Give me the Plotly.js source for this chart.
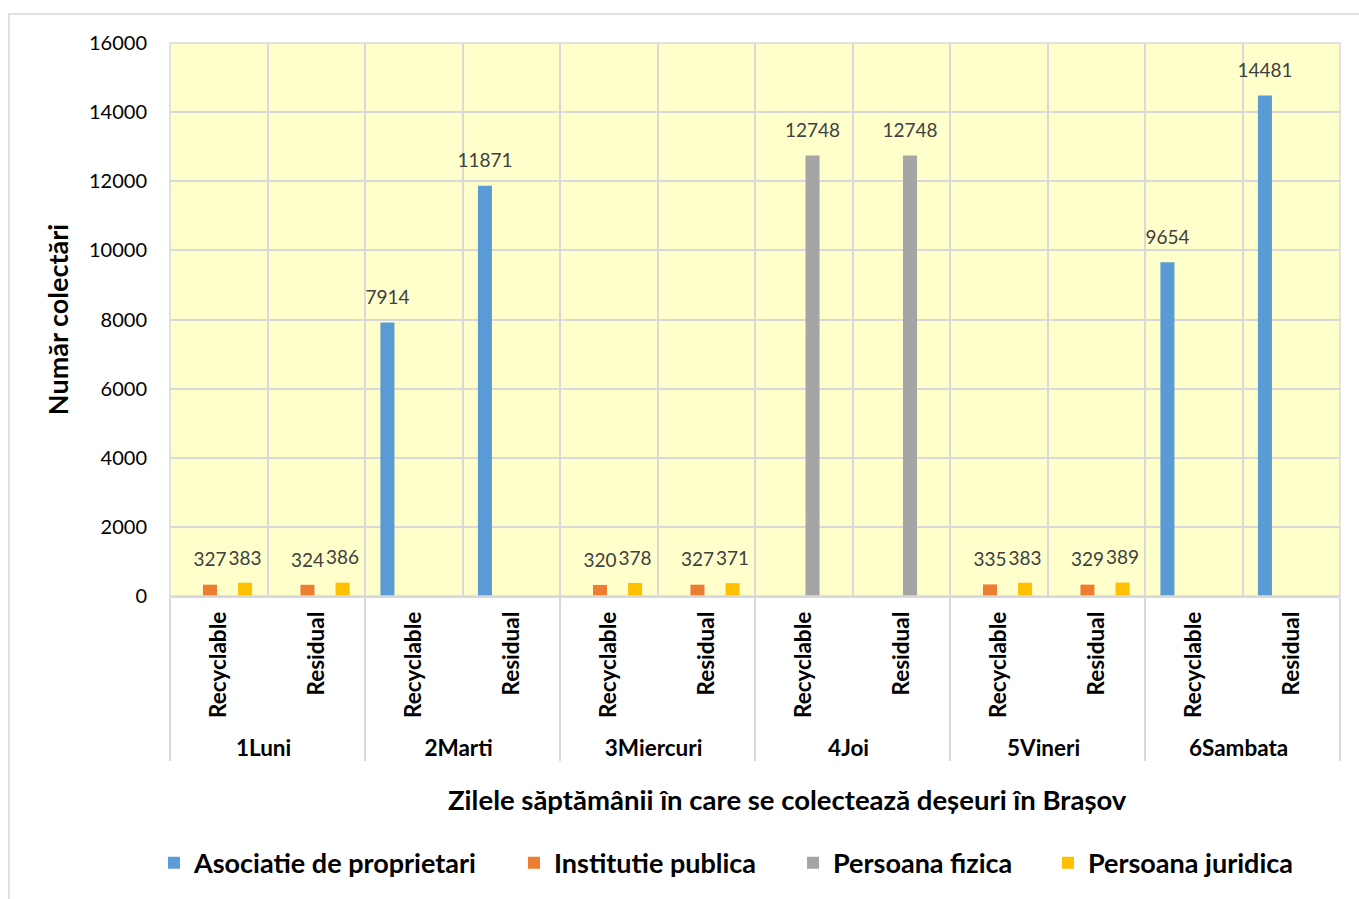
<!DOCTYPE html>
<html>
<head>
<meta charset="utf-8">
<script src="https://cdn.plot.ly/plotly-3.0.1.min.js"></script>
<style>
html,body{margin:0;padding:0;background:#fff;}
#chart{width:1359px;height:899px;}
</style>
</head>
<body>
<div id="chart"></div>
<script>
// Data
var days = ["1Luni","1Luni","2Marti","2Marti","3Miercuri","3Miercuri","4Joi","4Joi","5Vineri","5Vineri","6Sambata","6Sambata"];
var wasteTypes = ["Recyclable","Residual","Recyclable","Residual","Recyclable","Residual","Recyclable","Residual","Recyclable","Residual","Recyclable","Residual"];
var seriesNames = ["Asociatie de proprietari","Institutie publica","Persoana fizica","Persoana juridica"];
var asociatie = [null,null,7914,11871,null,null,null,null,null,null,9654,14481];
var institutie = [327,324,null,null,320,327,null,null,335,329,null,null];
var fizica = [null,null,null,null,null,null,12748,12748,null,null,null,null];
var juridica = [383,386,null,null,378,371,null,null,383,389,null,null];
var seriesValues = [asociatie, institutie, fizica, juridica];
var colors = ["#5B9BD5","#ED7D31","#A5A5A5","#FFC000"];
var xTitle = "Zilele săptămânii în care se colectează deșeuri în Brașov";
var yTitle = "Număr colectări";

var FONT = "Lato, 'Open Sans', sans-serif";
var legendIds = ["legend","legend2","legend3","legend4"];
var legendX = [-0.0137, 0.2940, 0.5325, 0.7504];

var traces = [];
seriesValues.forEach(function(vals, i){
  traces.push({
    type: "bar",
    name: seriesNames[i],
    legend: legendIds[i],
    offsetgroup: "s" + i,
    x: [days, wasteTypes],
    y: vals,
    marker: {color: colors[i]},
    hoverinfo: "name+y"
  });
});
// value labels, grouped to sit over the bars
seriesValues.forEach(function(vals, i){
  traces.push({
    type: "scatter",
    mode: "markers+text",
    showlegend: false,
    offsetgroup: "s" + i,
    x: [days, wasteTypes],
    y: vals,
    text: vals.map(function(v){ return v === null ? "" : String(v); }),
    textposition: "top center",
    textfont: {family: FONT, size: 19, color: "#404040"},
    marker: {size: 20, opacity: 0, color: colors[i]},
    cliponaxis: false,
    hoverinfo: "skip"
  });
});

function legendCfg(x){
  return {
    orientation: "h",
    x: x, xanchor: "left",
    y: -0.483, yanchor: "middle",
    font: {family: FONT, size: 27, color: "#000000", weight: "bold"},
    bgcolor: "rgba(0,0,0,0)"
  };
}

var layout = {
  width: 1359,
  height: 899,
  margin: {l: 170, r: 19, t: 43, b: 301},
  paper_bgcolor: "#ffffff",
  plot_bgcolor: "#FFFFCC",
  barmode: "group",
  bargap: 0.28,
  bargroupgap: 0.2,
  scattermode: "group",
  scattergap: 0.28,
  font: {family: FONT, color: "#000000"},
  showlegend: true,
  legend: legendCfg(legendX[0]),
  legend2: legendCfg(legendX[1]),
  legend3: legendCfg(legendX[2]),
  legend4: legendCfg(legendX[3]),
  xaxis: {
    type: "multicategory",
    tickson: "boundaries",
    showgrid: true,
    gridcolor: "#D9D9D9",
    gridwidth: 1.5,
    showline: true,
    linecolor: "#D9D9D9",
    linewidth: 1.5,
    ticks: "",
    tickangle: -90,
    ticklabelstandoff: 5,
    tickfont: {family: FONT, size: 22.5, color: "#000000", weight: "bold"},
    showdividers: true,
    dividercolor: "#D9D9D9",
    dividerwidth: 1.5,
    automargin: false
  },
  yaxis: {
    range: [0, 16000],
    dtick: 2000,
    tick0: 0,
    tickformat: "d",
    showgrid: true,
    gridcolor: "#D9D9D9",
    gridwidth: 1.5,
    zeroline: false,
    showline: false,
    ticks: "",
    ticklabelstandoff: 22,
    tickfont: {family: FONT, size: 20, color: "#000000"},
    automargin: false,
    title: {
      text: yTitle,
      font: {family: FONT, size: 27, color: "#000000", weight: "bold"},
      standoff: 12
    }
  },
  annotations: [
    {text: xTitle, xref: "paper", yref: "paper", x: 0.5274, y: -0.3676,
     xanchor: "center", yanchor: "middle", showarrow: false,
     font: {family: FONT, size: 27.5, color: "#000000", weight: "bold"}}
  ],
  shapes: [
    {type: "rect", xref: "paper", yref: "paper",
     x0: 0, x1: 1, y0: 0, y1: 1,
     line: {color: "#D9D9D9", width: 1.5}, fillcolor: "rgba(0,0,0,0)", layer: "above"},
    {type: "rect", xref: "paper", yref: "paper",
     x0: -0.1376, x1: 1.03, y0: -0.56, y1: 1.0523,
     line: {color: "#D9D9D9", width: 1.5}, fillcolor: "rgba(0,0,0,0)"}
  ]
};

Plotly.newPlot("chart", traces, layout, {displayModeBar: false, responsive: false});
</script>
</body>
</html>
